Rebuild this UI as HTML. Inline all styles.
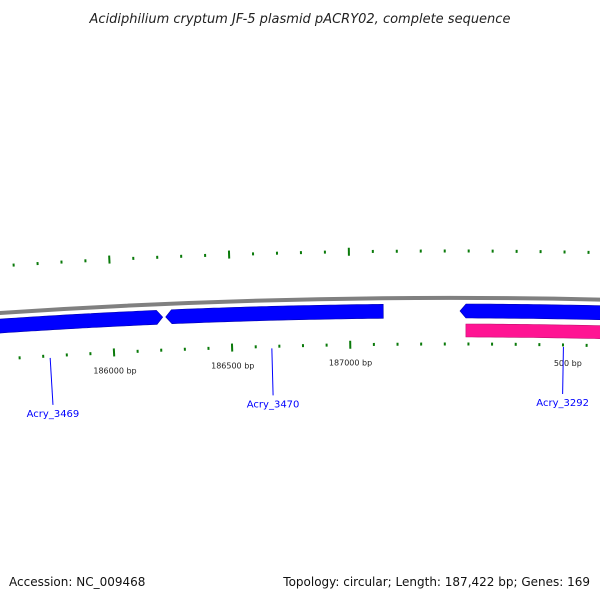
<!DOCTYPE html>
<html><head><meta charset="utf-8"><style>
body{margin:0;background:#fff;}
svg{display:block;font-family:"DejaVu Sans","Liberation Sans",sans-serif;}
</style></head><body>
<svg id="c" width="600" height="600" viewBox="0 0 600 600">
<text x="300" y="23" text-anchor="middle" font-size="13" font-style="italic" fill="#222">Acidiphilium cryptum JF-5 plasmid pACRY02, complete sequence</text>
<g id="g"></g>
<text x="9" y="586" font-size="12" fill="#111">Accession: NC_009468</text>
<text x="590" y="586" font-size="12" fill="#111" text-anchor="end">Topology: circular; Length: 187,422 bp; Genes: 169</text>
</svg>
<script>
const GENOME = 187422;
const geneNames = ["Acry_3469","Acry_3470","Acry_3292","rna-feature"];
const geneStarts = [185400, 186225, 42, 42];
const geneEnds = [186212, 187141, 1100, 1100];
const geneStrand = [1, -1, -1, 1];
const geneColors = ["#0000ff","#0000ff","#0000ff","#ff1493"];
const labelPos = [185729, 186668, 480];
const labelNames = ["Acry_3469","Acry_3470","Acry_3292"];
const tickLabels = [186000, 186500, 187000, 500];

const CX=450, CY=7048, R0=6750, PXPERBP=119/500;
function ang(bp){ let d=bp; if(d>GENOME/2) d-=GENOME; return d*PXPERBP/R0; }
function pt(bp,r){ const a=ang(bp); return [CX+r*Math.sin(a), CY-r*Math.cos(a)]; }
const g=document.getElementById('g');
const NS='http://www.w3.org/2000/svg';
function mk(t,attrs){const e=document.createElementNS(NS,t);for(const k in attrs)e.setAttribute(k,attrs[k]);g.appendChild(e);return e;}

// backbone
const p0=pt(184500,R0), p1=pt(3000,R0);
const bb=mk('path',{d:`M${p0[0]},${p0[1]} A${R0},${R0} 0 0 1 ${p1[0]},${p1[1]}`,fill:'none',stroke:'#808080','stroke-width':4});



// ticks
for(let bp=184000; bp<=GENOME+2000; bp+=100){
  const b=bp%GENOME;
  const major = (b%500===0);
  const p=pt(b,0); if(p[0]<-5||p[0]>605) continue;
  [[6797,'outer'],[6704,'inner']].forEach(([r,w])=>{
    const h=major?4:1.5;
    const a=pt(b,r-h), c=pt(b,r+h);
    const t=mk('line',{x1:a[0],y1:a[1],x2:c[0],y2:c[1],stroke:'#0a7a0a','stroke-width':2});
    
    
  });
}
// tick labels
tickLabels.forEach(v=>{
  const p=pt(v,6684);
  const t=mk('text',{x:p[0],y:p[1]+1,'font-size':8,'text-anchor':'middle',fill:'#222'});
  t.textContent=v+' bp';
  
  
});
// genes
function arcPoly(s,e,r1,r2,strand){
  const n=40, pts=[], ah=6/R0*GENOME; // arrow length bp
  const tip=6*R0/R0/PXPERBP;
  let s2=s,e2=e;
  if(strand>0) e2=e-tip; else s2=s+tip;
  for(let i=0;i<=n;i++){const b=s2+(e2-s2)*i/n;pts.push(pt(b,r2));}
  if(strand>0) pts.push(pt(e,(r1+r2)/2));
  for(let i=n;i>=0;i--){const b=s2+(e2-s2)*i/n;pts.push(pt(b,r1));}
  if(strand<0) pts.push(pt(s,(r1+r2)/2));
  return pts.map(p=>p[0].toFixed(1)+','+p[1].toFixed(1)).join(' ');
}
for(let i=0;i<geneNames.length;i++){
  let s=geneStarts[i], e=geneEnds[i];
  if(s>GENOME/2) s-=GENOME; if(e>GENOME/2) e-=GENOME;
  const pink = geneColors[i]!=="#0000ff";
  const r1 = pink?6711:6730, r2 = pink?6724:6744;
  const poly=mk('polygon',{points:arcPoly(s,e,r1,r2,pink?0:geneStrand[i]),fill:geneColors[i],stroke:pink?'#c0106f':'#0000b0','stroke-width':0.6});
  
  
}
// gene labels
labelPos.forEach((v,i)=>{
  const a=pt(v,6702), b=pt(v,6655);
  const l=mk('line',{x1:a[0],y1:a[1],x2:b[0],y2:b[1],stroke:'#0000ff','stroke-width':1});
  
  
  const t=mk('text',{x:b[0],y:b[1]+12,'font-size':10,'text-anchor':'middle',fill:'#0000ff'});
  t.textContent=labelNames[i];
  
  
});
</script>
</body></html>
